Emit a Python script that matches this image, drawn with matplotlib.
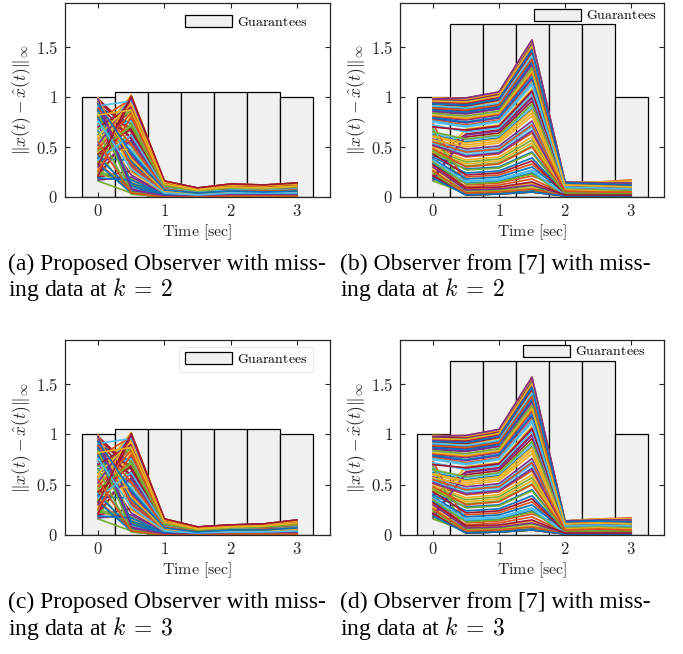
import numpy as np
import matplotlib
matplotlib.use('Agg')
import matplotlib.pyplot as plt
from matplotlib.ticker import FixedLocator, FixedFormatter

plt.rcParams['mathtext.fontset'] = 'cm'
plt.rcParams['font.family'] = ['Liberation Serif', 'DejaVu Serif']

# ---------------- data ----------------
t = [0.0, 0.5, 1.0, 1.5, 2.0, 2.5, 3.0]
guarantee_proposed = [1.0, 1.05, 1.05, 1.05, 1.05, 1.05, 1.0]
guarantee_ref7 = [1.0, 1.73, 1.73, 1.73, 1.73, 1.73, 1.0]

# initial estimation errors (t = 0), common to all runs
err0 = [0.62, 0.95, 0.31, 0.78, 0.18, 0.54, 0.88, 0.42, 0.99, 0.27,
        0.71, 0.47, 0.83, 0.22, 0.66, 0.36, 0.92, 0.58, 0.16, 0.75,
        0.39, 0.97, 0.51, 0.29, 0.85, 0.44, 0.69, 0.20, 0.90, 0.34,
        0.60, 0.80, 0.25, 0.56, 0.98, 0.40, 0.73, 0.49, 0.86, 0.24,
        0.64, 0.93, 0.33, 0.77, 0.45, 0.17, 0.68, 0.53, 0.96, 0.38,
        0.81, 0.57, 0.94, 0.35, 0.72, 0.21, 0.87, 0.48, 0.99, 0.30,
        0.65, 0.91, 0.43, 0.79, 0.26, 0.96, 0.52, 0.84, 0.37, 0.70,
        0.19, 0.89, 0.61, 0.98, 0.46, 0.76, 0.32, 0.93, 0.55, 0.82]

# proposed observer
prop_05 = [0.85, 0.40, 0.96, 0.12, 0.70, 1.01, 0.05, 0.55, 0.30, 0.88,
           0.22, 0.99, 0.08, 0.63, 0.45, 0.92, 0.15, 0.78, 0.04, 0.50,
           0.97, 0.35, 0.10, 0.82, 0.60, 0.03, 0.94, 0.26, 0.73, 0.06,
           1.02, 0.42, 0.18, 0.89, 0.67, 0.07, 0.52, 0.95, 0.32, 0.13,
           0.76, 0.58, 0.04, 0.98, 0.48, 0.20, 0.86, 0.09, 0.65, 0.37,
           0.33, 0.91, 0.06, 0.74, 0.47, 1.00, 0.14, 0.84, 0.25, 0.57,
           0.03, 0.96, 0.69, 0.11, 0.80, 0.38, 0.99, 0.05, 0.62, 0.90,
           0.17, 0.53, 0.93, 0.08, 0.71, 0.28, 1.01, 0.44, 0.04, 0.87]
prop_1 = [0.13, 0.06, 0.15, 0.01, 0.10, 0.16, 0.00, 0.08, 0.04, 0.14,
          0.03, 0.15, 0.01, 0.09, 0.07, 0.14, 0.02, 0.12, 0.00, 0.08,
          0.15, 0.05, 0.01, 0.13, 0.09, 0.00, 0.14, 0.04, 0.11, 0.01,
          0.16, 0.06, 0.03, 0.13, 0.10, 0.01, 0.08, 0.15, 0.05, 0.02,
          0.12, 0.09, 0.00, 0.15, 0.07, 0.03, 0.13, 0.01, 0.10, 0.06,
          0.05, 0.14, 0.01, 0.11, 0.07, 0.16, 0.02, 0.13, 0.04, 0.09,
          0.00, 0.15, 0.10, 0.01, 0.12, 0.06, 0.15, 0.00, 0.09, 0.14,
          0.02, 0.08, 0.15, 0.01, 0.11, 0.04, 0.16, 0.07, 0.00, 0.13]
# (a) missing data at k = 2
a_15 = [0.07, 0.03, 0.08, 0.01, 0.05, 0.09, 0.00, 0.04, 0.02, 0.08,
        0.02, 0.08, 0.01, 0.05, 0.04, 0.08, 0.01, 0.06, 0.00, 0.04,
        0.08, 0.03, 0.01, 0.07, 0.05, 0.00, 0.08, 0.02, 0.06, 0.01,
        0.09, 0.03, 0.02, 0.07, 0.05, 0.01, 0.04, 0.08, 0.03, 0.01,
        0.06, 0.05, 0.00, 0.08, 0.04, 0.02, 0.07, 0.01, 0.05, 0.03,
        0.03, 0.08, 0.01, 0.06, 0.04, 0.09, 0.01, 0.07, 0.02, 0.05,
        0.00, 0.08, 0.06, 0.01, 0.07, 0.03, 0.09, 0.00, 0.05, 0.08,
        0.01, 0.04, 0.08, 0.01, 0.06, 0.02, 0.09, 0.04, 0.00, 0.07]
a_2 = [0.10, 0.04, 0.12, 0.02, 0.08, 0.13, 0.01, 0.06, 0.03, 0.11,
       0.03, 0.12, 0.02, 0.07, 0.05, 0.11, 0.02, 0.09, 0.01, 0.06,
       0.12, 0.04, 0.02, 0.10, 0.07, 0.01, 0.11, 0.03, 0.09, 0.02,
       0.13, 0.05, 0.03, 0.10, 0.08, 0.02, 0.06, 0.12, 0.04, 0.02,
       0.09, 0.07, 0.01, 0.12, 0.05, 0.03, 0.10, 0.02, 0.08, 0.05,
       0.04, 0.11, 0.02, 0.09, 0.06, 0.13, 0.02, 0.10, 0.03, 0.07,
       0.01, 0.12, 0.08, 0.02, 0.10, 0.05, 0.12, 0.01, 0.07, 0.11,
       0.03, 0.06, 0.12, 0.02, 0.09, 0.04, 0.13, 0.06, 0.01, 0.10]
a_25 = [0.09, 0.04, 0.11, 0.02, 0.07, 0.12, 0.01, 0.06, 0.03, 0.10,
        0.03, 0.11, 0.02, 0.07, 0.05, 0.10, 0.02, 0.08, 0.01, 0.06,
        0.11, 0.04, 0.02, 0.09, 0.07, 0.01, 0.10, 0.03, 0.08, 0.02,
        0.12, 0.05, 0.03, 0.09, 0.07, 0.02, 0.06, 0.11, 0.04, 0.02,
        0.08, 0.07, 0.01, 0.11, 0.05, 0.03, 0.09, 0.02, 0.07, 0.04,
        0.04, 0.10, 0.02, 0.08, 0.06, 0.12, 0.02, 0.09, 0.03, 0.07,
        0.01, 0.11, 0.08, 0.02, 0.09, 0.05, 0.11, 0.01, 0.07, 0.10,
        0.03, 0.06, 0.11, 0.02, 0.08, 0.04, 0.12, 0.05, 0.01, 0.09]
a_3 = [0.10, 0.05, 0.12, 0.02, 0.08, 0.14, 0.01, 0.07, 0.04, 0.11,
       0.03, 0.13, 0.02, 0.08, 0.06, 0.12, 0.03, 0.09, 0.01, 0.07,
       0.13, 0.05, 0.02, 0.10, 0.08, 0.01, 0.12, 0.04, 0.09, 0.02,
       0.14, 0.06, 0.03, 0.11, 0.08, 0.02, 0.07, 0.12, 0.05, 0.03,
       0.09, 0.08, 0.01, 0.13, 0.06, 0.03, 0.10, 0.02, 0.08, 0.05,
       0.05, 0.12, 0.02, 0.09, 0.07, 0.14, 0.03, 0.11, 0.04, 0.08,
       0.01, 0.13, 0.09, 0.02, 0.11, 0.06, 0.13, 0.01, 0.08, 0.12,
       0.03, 0.07, 0.13, 0.02, 0.10, 0.04, 0.14, 0.06, 0.01, 0.11]
# (c) missing data at k = 3
c_15 = [0.06, 0.03, 0.07, 0.01, 0.05, 0.08, 0.00, 0.04, 0.02, 0.07,
        0.01, 0.07, 0.00, 0.04, 0.03, 0.07, 0.01, 0.05, 0.00, 0.04,
        0.07, 0.02, 0.01, 0.06, 0.04, 0.00, 0.07, 0.02, 0.05, 0.01,
        0.08, 0.03, 0.01, 0.06, 0.05, 0.00, 0.04, 0.07, 0.02, 0.01,
        0.05, 0.04, 0.00, 0.07, 0.03, 0.01, 0.06, 0.01, 0.05, 0.03,
        0.03, 0.07, 0.01, 0.05, 0.04, 0.08, 0.01, 0.06, 0.02, 0.04,
        0.00, 0.07, 0.05, 0.01, 0.06, 0.03, 0.08, 0.00, 0.04, 0.07,
        0.01, 0.04, 0.07, 0.01, 0.05, 0.02, 0.08, 0.03, 0.00, 0.06]
c_2 = [0.08, 0.03, 0.09, 0.01, 0.06, 0.10, 0.01, 0.05, 0.02, 0.09,
       0.02, 0.09, 0.01, 0.06, 0.04, 0.09, 0.02, 0.07, 0.01, 0.05,
       0.09, 0.03, 0.01, 0.08, 0.06, 0.01, 0.09, 0.02, 0.07, 0.01,
       0.10, 0.04, 0.02, 0.08, 0.06, 0.01, 0.05, 0.09, 0.03, 0.02,
       0.07, 0.06, 0.01, 0.09, 0.04, 0.02, 0.08, 0.01, 0.06, 0.04,
       0.03, 0.09, 0.01, 0.07, 0.05, 0.10, 0.02, 0.08, 0.03, 0.06,
       0.01, 0.09, 0.07, 0.01, 0.08, 0.04, 0.10, 0.01, 0.06, 0.09,
       0.02, 0.05, 0.09, 0.01, 0.07, 0.03, 0.10, 0.05, 0.01, 0.08]
c_25 = [0.09, 0.04, 0.10, 0.02, 0.07, 0.11, 0.01, 0.06, 0.03, 0.10,
        0.02, 0.10, 0.01, 0.06, 0.05, 0.10, 0.02, 0.08, 0.01, 0.06,
        0.10, 0.04, 0.02, 0.09, 0.06, 0.01, 0.10, 0.03, 0.08, 0.02,
        0.11, 0.05, 0.02, 0.09, 0.07, 0.01, 0.06, 0.10, 0.04, 0.02,
        0.08, 0.06, 0.01, 0.10, 0.05, 0.02, 0.09, 0.01, 0.07, 0.04,
        0.04, 0.10, 0.02, 0.08, 0.05, 0.11, 0.02, 0.09, 0.03, 0.06,
        0.01, 0.10, 0.07, 0.02, 0.09, 0.04, 0.11, 0.01, 0.06, 0.10,
        0.02, 0.06, 0.10, 0.02, 0.08, 0.03, 0.11, 0.05, 0.01, 0.09]
c_3 = [0.11, 0.05, 0.13, 0.02, 0.09, 0.15, 0.01, 0.07, 0.04, 0.12,
       0.03, 0.13, 0.02, 0.08, 0.06, 0.12, 0.03, 0.10, 0.01, 0.07,
       0.13, 0.05, 0.02, 0.11, 0.08, 0.01, 0.12, 0.04, 0.10, 0.02,
       0.14, 0.06, 0.03, 0.11, 0.09, 0.02, 0.07, 0.13, 0.05, 0.03,
       0.10, 0.08, 0.01, 0.13, 0.06, 0.03, 0.11, 0.02, 0.09, 0.05,
       0.05, 0.13, 0.02, 0.10, 0.07, 0.15, 0.03, 0.12, 0.04, 0.08,
       0.01, 0.14, 0.09, 0.02, 0.11, 0.06, 0.14, 0.01, 0.08, 0.13,
       0.03, 0.07, 0.14, 0.02, 0.10, 0.04, 0.15, 0.07, 0.01, 0.12]

# observer from [7]
ref_05 = [0.55, 0.93, 0.68, 0.74, 0.03, 0.44, 0.86, 0.28, 0.99, 0.05,
          0.66, 0.35, 0.80, 0.02, 0.03, 0.20, 0.90, 0.48, 0.04, 0.70,
          0.63, 0.96, 0.40, 0.08, 0.83, 0.31, 0.16, 0.60, 0.88, 0.10,
          0.52, 0.77, 0.06, 0.46, 0.97, 0.24, 0.12, 0.37, 0.84, 0.02,
          0.57, 0.91, 0.14, 0.72, 0.33, 0.62, 0.02, 0.42, 0.94, 0.18,
          0.78, 0.50, 0.92, 0.13, 0.65, 0.02, 0.85, 0.30, 0.98, 0.07,
          0.58, 0.89, 0.22, 0.75, 0.04, 0.95, 0.41, 0.81, 0.15, 0.67,
          0.02, 0.87, 0.54, 0.99, 0.27, 0.71, 0.09, 0.92, 0.45, 0.79]
ref_1 = [0.59, 0.99, 0.72, 0.79, 0.04, 0.47, 0.91, 0.30, 1.05, 0.06,
         0.70, 0.38, 0.85, 0.03, 0.04, 0.22, 0.96, 0.51, 0.05, 0.75,
         0.67, 1.02, 0.43, 0.09, 0.88, 0.34, 0.18, 0.64, 0.93, 0.12,
         0.56, 0.82, 0.07, 0.49, 1.03, 0.26, 0.14, 0.40, 0.89, 0.03,
         0.61, 0.97, 0.16, 0.77, 0.36, 0.66, 0.03, 0.45, 1.00, 0.20,
         0.83, 0.54, 0.98, 0.15, 0.69, 0.03, 0.90, 0.33, 1.04, 0.08,
         0.62, 0.94, 0.24, 0.80, 0.05, 1.01, 0.44, 0.86, 0.17, 0.71,
         0.03, 0.92, 0.58, 1.05, 0.29, 0.76, 0.10, 0.98, 0.48, 0.84]
ref_15 = [0.88, 1.48, 1.08, 1.18, 0.06, 0.70, 1.36, 0.45, 1.57, 0.09,
          1.05, 0.57, 1.27, 0.05, 0.06, 0.33, 1.44, 0.76, 0.08, 1.12,
          1.00, 1.53, 0.64, 0.14, 1.32, 0.51, 0.27, 0.96, 1.39, 0.18,
          0.84, 1.23, 0.11, 0.73, 1.55, 0.39, 0.21, 0.60, 1.33, 0.05,
          0.91, 1.45, 0.24, 1.15, 0.54, 0.99, 0.05, 0.67, 1.50, 0.30,
          1.24, 0.81, 1.47, 0.23, 1.03, 0.05, 1.35, 0.50, 1.56, 0.12,
          0.93, 1.41, 0.36, 1.20, 0.08, 1.51, 0.66, 1.29, 0.26, 1.06,
          0.05, 1.38, 0.87, 1.57, 0.44, 1.14, 0.15, 1.47, 0.72, 1.26]
# (b) missing data at k = 2
b_2 = [0.08, 0.14, 0.03, 0.11, 0.01, 0.07, 0.13, 0.05, 0.15, 0.02,
       0.10, 0.06, 0.12, 0.01, 0.09, 0.04, 0.14, 0.07, 0.02, 0.11,
       0.03, 0.15, 0.06, 0.02, 0.13, 0.05, 0.09, 0.01, 0.14, 0.03,
       0.08, 0.12, 0.02, 0.07, 0.15, 0.04, 0.10, 0.06, 0.13, 0.01,
       0.08, 0.14, 0.03, 0.11, 0.05, 0.01, 0.09, 0.07, 0.14, 0.04,
       0.12, 0.06, 0.14, 0.02, 0.09, 0.01, 0.13, 0.04, 0.15, 0.02,
       0.08, 0.14, 0.03, 0.11, 0.01, 0.15, 0.05, 0.12, 0.02, 0.10,
       0.01, 0.13, 0.07, 0.15, 0.04, 0.10, 0.02, 0.14, 0.06, 0.12]
b_25 = [0.07, 0.13, 0.03, 0.10, 0.01, 0.06, 0.12, 0.04, 0.15, 0.02,
        0.09, 0.05, 0.11, 0.01, 0.08, 0.04, 0.13, 0.06, 0.02, 0.10,
        0.03, 0.14, 0.05, 0.02, 0.12, 0.05, 0.08, 0.01, 0.13, 0.03,
        0.07, 0.11, 0.02, 0.06, 0.14, 0.04, 0.09, 0.05, 0.12, 0.01,
        0.07, 0.13, 0.03, 0.10, 0.05, 0.01, 0.08, 0.06, 0.13, 0.04,
        0.11, 0.06, 0.13, 0.02, 0.08, 0.01, 0.12, 0.04, 0.15, 0.02,
        0.07, 0.13, 0.03, 0.10, 0.01, 0.14, 0.05, 0.11, 0.02, 0.09,
        0.01, 0.12, 0.06, 0.14, 0.04, 0.09, 0.02, 0.13, 0.05, 0.11]
b_3 = [0.06, 0.12, 0.02, 0.09, 0.01, 0.05, 0.11, 0.04, 0.17, 0.02,
       0.08, 0.05, 0.10, 0.01, 0.07, 0.03, 0.12, 0.06, 0.01, 0.09,
       0.03, 0.14, 0.05, 0.02, 0.11, 0.04, 0.07, 0.01, 0.12, 0.02,
       0.06, 0.10, 0.02, 0.05, 0.13, 0.03, 0.08, 0.05, 0.11, 0.01,
       0.06, 0.12, 0.03, 0.09, 0.04, 0.01, 0.07, 0.06, 0.12, 0.03,
       0.10, 0.05, 0.12, 0.02, 0.07, 0.01, 0.11, 0.03, 0.16, 0.02,
       0.06, 0.12, 0.03, 0.09, 0.01, 0.13, 0.04, 0.10, 0.02, 0.08,
       0.01, 0.12, 0.05, 0.14, 0.03, 0.08, 0.02, 0.12, 0.05, 0.10]
# (d) missing data at k = 3
d_2 = [0.07, 0.13, 0.03, 0.10, 0.01, 0.06, 0.12, 0.04, 0.14, 0.02,
       0.09, 0.05, 0.11, 0.01, 0.08, 0.04, 0.13, 0.06, 0.02, 0.10,
       0.03, 0.14, 0.05, 0.02, 0.12, 0.05, 0.08, 0.01, 0.13, 0.03,
       0.07, 0.11, 0.02, 0.06, 0.14, 0.04, 0.09, 0.05, 0.12, 0.01,
       0.07, 0.13, 0.03, 0.10, 0.05, 0.01, 0.08, 0.06, 0.13, 0.04,
       0.11, 0.06, 0.13, 0.02, 0.08, 0.01, 0.12, 0.04, 0.14, 0.02,
       0.07, 0.13, 0.03, 0.10, 0.01, 0.14, 0.05, 0.11, 0.02, 0.09,
       0.01, 0.12, 0.06, 0.14, 0.04, 0.09, 0.02, 0.13, 0.05, 0.11]
d_25 = [0.08, 0.14, 0.03, 0.11, 0.01, 0.07, 0.13, 0.05, 0.16, 0.02,
        0.10, 0.06, 0.12, 0.01, 0.09, 0.04, 0.14, 0.07, 0.02, 0.11,
        0.03, 0.15, 0.06, 0.02, 0.13, 0.05, 0.09, 0.01, 0.14, 0.03,
        0.08, 0.12, 0.02, 0.07, 0.15, 0.04, 0.10, 0.06, 0.13, 0.01,
        0.08, 0.14, 0.03, 0.11, 0.05, 0.01, 0.09, 0.07, 0.14, 0.04,
        0.12, 0.06, 0.14, 0.02, 0.09, 0.01, 0.13, 0.04, 0.16, 0.02,
        0.08, 0.14, 0.03, 0.11, 0.01, 0.15, 0.05, 0.12, 0.02, 0.10,
        0.01, 0.13, 0.07, 0.15, 0.04, 0.10, 0.02, 0.14, 0.06, 0.12]
d_3 = [0.07, 0.13, 0.02, 0.10, 0.01, 0.06, 0.12, 0.04, 0.17, 0.02,
       0.09, 0.05, 0.11, 0.01, 0.07, 0.03, 0.13, 0.06, 0.01, 0.10,
       0.03, 0.15, 0.05, 0.02, 0.12, 0.04, 0.08, 0.01, 0.13, 0.02,
       0.07, 0.11, 0.02, 0.06, 0.14, 0.03, 0.09, 0.05, 0.12, 0.01,
       0.07, 0.13, 0.03, 0.10, 0.04, 0.01, 0.08, 0.06, 0.13, 0.03,
       0.11, 0.06, 0.13, 0.02, 0.08, 0.01, 0.12, 0.04, 0.16, 0.02,
       0.07, 0.13, 0.03, 0.10, 0.01, 0.14, 0.05, 0.11, 0.02, 0.09,
       0.01, 0.13, 0.06, 0.15, 0.04, 0.09, 0.02, 0.13, 0.05, 0.11]

x_ticks = [0, 1, 2, 3]
x_tick_labels = ['0', '1', '2', '3']
y_ticks = [0, 0.5, 1, 1.5]
y_tick_labels = ['0', '0.5', '1', '1.5']

captions = [
    ['(a) Proposed Observer with miss-', r'ing data at $k\:=\:2$'],
    ['(b) Observer from [7] with miss-', r'ing data at $k\:=\:2$'],
    ['(c) Proposed Observer with miss-', r'ing data at $k\:=\:3$'],
    ['(d) Observer from [7] with miss-', r'ing data at $k\:=\:3$'],
]

panels = [
    (guarantee_proposed, [err0, prop_05, prop_1, a_15, a_2, a_25, a_3]),
    (guarantee_ref7, [err0, ref_05, ref_1, ref_15, b_2, b_25, b_3]),
    (guarantee_proposed, [err0, prop_05, prop_1, c_15, c_2, c_25, c_3]),
    (guarantee_ref7, [err0, ref_05, ref_1, ref_15, d_2, d_25, d_3]),
]

matlab_colors = ['#0072BD', '#D95319', '#EDB120', '#7E2F8E',
                 '#77AC30', '#4DBEEE', '#A2142F']

# ---------------- layout ----------------
W, H = 683, 654
fig = plt.figure(figsize=(W / 100, H / 100), dpi=100)

axes_px = [(65, 330, 3, 197), (400, 664, 3, 197),
           (65, 330, 340, 535), (400, 664, 340, 535)]
legend_anchor = [(0.43, 0.965), (0.485, 1.0), (0.432, 0.965), (0.443, 1.005)]
legend_frame = [False, False, True, False]
caption_x = [8, 340, 8, 340]
caption_y = [(264, 290), (264, 290), (602, 628), (602, 628)]

spine_c = '#262626'
for i, (guar, series) in enumerate(panels):
    l, r, tp, bt = axes_px[i]
    ax = fig.add_axes([l / W, 1 - bt / H, (r - l) / W, (bt - tp) / H])
    ax.set_prop_cycle(color=matlab_colors)
    ax.bar(t, guar, width=0.5, color='#f0f0f0', edgecolor='black',
           linewidth=0.9, zorder=1, label=r'$\mathrm{Guarantees}$')
    Y = np.array(series)
    ax.plot(t, Y, linewidth=1.2, zorder=2)
    ax.set_xlim(-0.5, 3.5)
    ax.set_ylim(0, 1.94)
    ax.xaxis.set_major_locator(FixedLocator(x_ticks))
    ax.xaxis.set_major_formatter(FixedFormatter(['$%s$' % s for s in x_tick_labels]))
    ax.yaxis.set_major_locator(FixedLocator(y_ticks))
    ax.yaxis.set_major_formatter(FixedFormatter(['$%s$' % s for s in y_tick_labels]))
    ax.tick_params(direction='in', length=3.5, width=0.8, colors=spine_c,
                   top=True, right=True, labelsize=12, pad=5)
    for s in ax.spines.values():
        s.set_color(spine_c)
        s.set_linewidth(0.9)
        s.set_zorder(3)
    ax.set_xlabel(r'$\mathrm{Time\ [sec]}$', fontsize=11.5, color=spine_c, labelpad=2)
    ax.set_ylabel(r'$\|x(t)-\hat{x}(t)\|_\infty$', fontsize=12.5, color=spine_c)
    ax.yaxis.set_label_coords(-0.12, 0.5)
    leg = ax.legend(loc='upper left', bbox_to_anchor=legend_anchor[i],
                    fontsize=10, handlelength=3.4, handleheight=0.95,
                    handletextpad=0.35, borderpad=0.4, borderaxespad=0,
                    frameon=legend_frame[i], fancybox=False)
    if legend_frame[i]:
        leg.get_frame().set_edgecolor('#e3e3e3')
        leg.get_frame().set_linewidth(0.8)
    for h in leg.legend_handles:
        h.set_edgecolor('black')
        h.set_linewidth(0.9)
    y1, y2 = caption_y[i]
    fig.text(caption_x[i] / W, 1 - y1 / H, captions[i][0], fontsize=17,
             va='center', ha='left')
    fig.text(caption_x[i] / W, 1 - y2 / H, captions[i][1], fontsize=17,
             va='center', ha='left')

fig.savefig('out.png', dpi=100)
